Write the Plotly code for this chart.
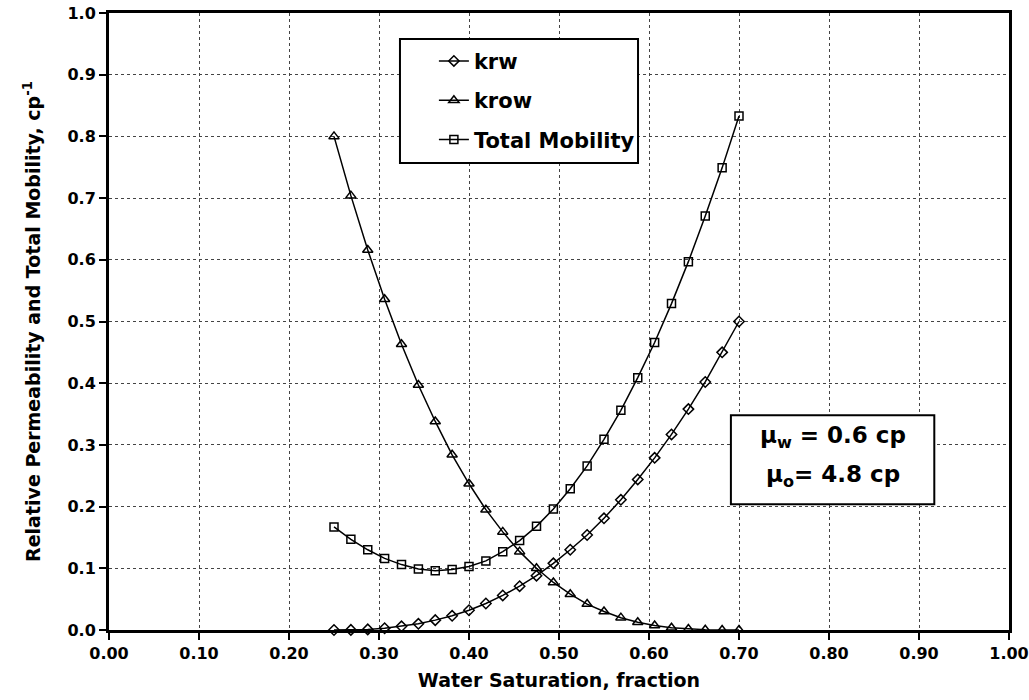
import plotly.graph_objects as go

sw = [0.25, 0.26875, 0.2875, 0.30625, 0.325, 0.34375, 0.3625, 0.38125, 0.4,
      0.41875, 0.4375, 0.45625, 0.475, 0.49375, 0.5125, 0.53125, 0.55,
      0.56875, 0.5875, 0.60625, 0.625, 0.64375, 0.6625, 0.68125, 0.7]
krw = [0.0, 0.0002, 0.001, 0.003, 0.006, 0.010, 0.016, 0.023, 0.032, 0.043,
       0.056, 0.071, 0.088, 0.108, 0.130, 0.154, 0.181, 0.211, 0.244, 0.279,
       0.317, 0.358, 0.402, 0.450, 0.500]
krow = [0.800, 0.704, 0.616, 0.536, 0.463, 0.397, 0.338, 0.284, 0.237, 0.195,
        0.159, 0.127, 0.100, 0.077, 0.058, 0.042, 0.030, 0.020, 0.0125, 0.0072,
        0.0037, 0.0016, 0.0005, 0.0001, 0.0]
total_mob = [0.167, 0.147, 0.130, 0.116, 0.106, 0.099, 0.096, 0.098, 0.103,
             0.112, 0.127, 0.145, 0.168, 0.196, 0.229, 0.266, 0.309, 0.356,
             0.409, 0.466, 0.529, 0.597, 0.671, 0.749, 0.833]

x_ticks = [0.0, 0.1, 0.2, 0.3, 0.4, 0.5, 0.6, 0.7, 0.8, 0.9, 1.0]
y_ticks = [0.0, 0.1, 0.2, 0.3, 0.4, 0.5, 0.6, 0.7, 0.8, 0.9, 1.0]

FONT = "DejaVu Sans, Arial, sans-serif"

series = [
    ("krw", krw, "diamond-open", 8),
    ("krow", krow, "triangle-up-open", 9),
    ("Total Mobility", total_mob, "square-open", 8),
]

fig = go.Figure()
for i, (name, vals, sym, size) in enumerate(series):
    fig.add_trace(go.Scatter(
        x=sw, y=vals, name=name, mode="lines+markers",
        line=dict(color="black", width=1.5),
        marker=dict(symbol=sym, size=size, color="black",
                    line=dict(color="black", width=1.5)),
        cliponaxis=False, legendgroup=f"g{i}",
    ))

# legend frame
fig.add_shape(type="rect", xref="x", yref="y", x0=0.3233, x1=0.5878,
              y0=0.757, y1=0.958, line=dict(color="black", width=2),
              fillcolor="white", layer="above")
# viscosity box
fig.add_shape(type="rect", xref="x", yref="y", x0=0.691, x1=0.917,
              y0=0.204, y1=0.348, line=dict(color="black", width=2),
              fillcolor="white", layer="above")
fig.add_annotation(x=0.804, y=0.313, xref="x", yref="y",
                   text="μ<sub>w</sub> = 0.6 cp", showarrow=False,
                   font=dict(family=FONT, size=23, color="black", weight="bold"))
fig.add_annotation(x=0.804, y=0.250, xref="x", yref="y",
                   text="μ<sub>o</sub>= 4.8 cp", showarrow=False,
                   font=dict(family=FONT, size=23, color="black", weight="bold"))

axis_common = dict(
    showline=True, linecolor="black", linewidth=3, mirror=True,
    ticks="outside", ticklen=7, tickwidth=2, tickcolor="black",
    showgrid=True, gridcolor="#444", gridwidth=1, griddash="dot",
    zeroline=False,
    tickfont=dict(family=FONT, size=16, color="black", weight="bold"),
)

fig.update_xaxes(range=[0, 1], tickvals=x_ticks, tickformat=".2f",
                 title=dict(text="Water Saturation, fraction", standoff=12,
                            font=dict(family=FONT, size=19, color="black", weight="bold")),
                 **axis_common)
fig.update_yaxes(range=[0, 1], tickvals=y_ticks, tickformat=".1f",
                 title=dict(text="Relative Permeability and Total Mobility, cp<sup>-1</sup>",
                            standoff=22,
                            font=dict(family=FONT, size=19, color="black", weight="bold")),
                 **axis_common)

fig.update_layout(
    width=1029, height=700,
    margin=dict(l=109, r=20, t=13, b=70, autoexpand=False),
    paper_bgcolor="white", plot_bgcolor="white",
    showlegend=True,
    legend=dict(x=0.361, y=0.955, xanchor="left", yanchor="top",
                xref="paper", yref="paper",
                bgcolor="rgba(0,0,0,0)", borderwidth=0,
                tracegroupgap=9, itemwidth=30,
                font=dict(family=FONT, size=21, color="black", weight="bold")),
)

fig.write_html("out.html")
